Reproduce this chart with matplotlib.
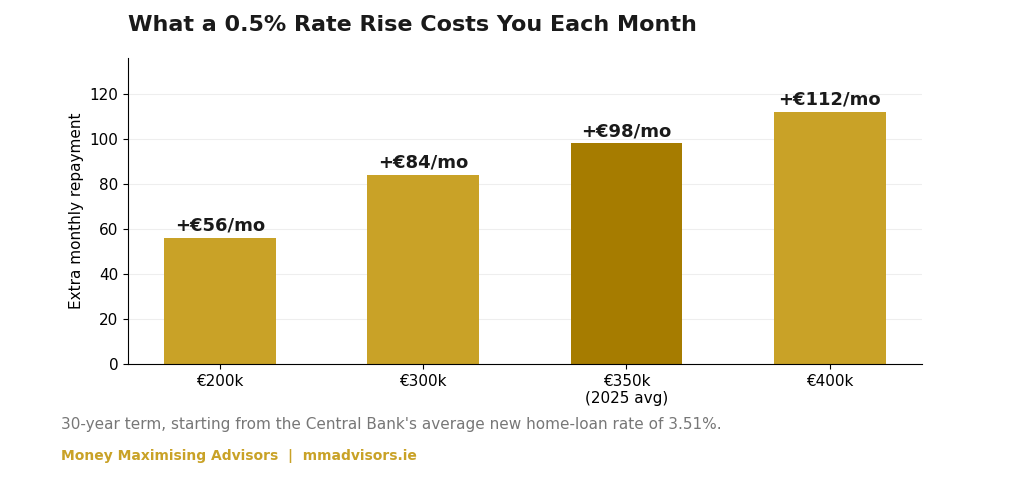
import matplotlib
matplotlib.use("Agg")
import matplotlib.pyplot as plt

loans = ["€200k", "€300k", "€350k\n(2025 avg)", "€400k"]
extra = [56, 84, 98, 112]
highlight = 2

fig = plt.figure(figsize=(10.24, 4.79), dpi=100)
ax = fig.add_axes([0.125, 0.24, 0.775, 0.639])

colours = ["#A67C00" if i == highlight else "#C9A227" for i in range(len(extra))]
bars = ax.bar(range(len(extra)), extra, width=0.55, color=colours, zorder=2)
for b, v in zip(bars, extra):
    ax.text(b.get_x() + b.get_width() / 2, v + 1.5, "+€%d/mo" % v,
            ha="center", va="bottom", fontsize=13, fontweight="bold", color="#1a1a1a")

ax.set_xticks(range(len(extra)))
ax.set_xticklabels(loans, fontsize=11)
ax.set_ylim(0, 136)
ax.set_yticks(range(0, 121, 20))
ax.tick_params(axis="y", labelsize=11)
ax.set_ylabel("Extra monthly repayment", fontsize=11)
ax.grid(axis="y", color="#eeeeee", zorder=0)
ax.spines["top"].set_visible(False)
ax.spines["right"].set_visible(False)

fig.text(0.125, 0.935, "What a 0.5% Rate Rise Costs You Each Month",
         fontsize=16, fontweight="bold", color="#1a1a1a")
fig.text(0.06, 0.105, "30-year term, starting from the Central Bank's average new home-loan rate of 3.51%.",
         fontsize=11, color="#777777")
fig.text(0.06, 0.04, "Money Maximising Advisors  |  mmadvisors.ie",
         fontsize=10, fontweight="bold", color="#C9A227")

fig.savefig("out.png", dpi=100)
